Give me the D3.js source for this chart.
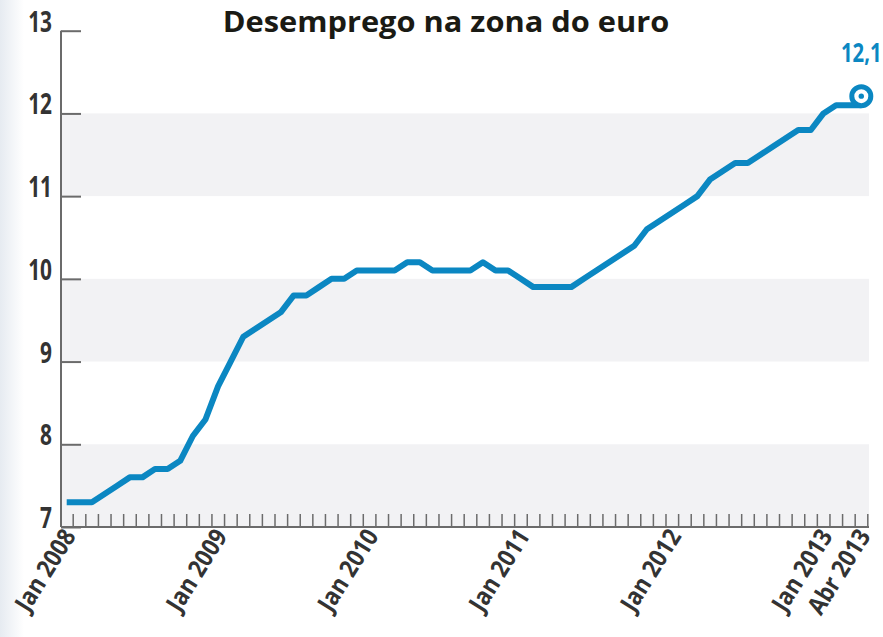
<!DOCTYPE html>
<html>
<head>
<meta charset="utf-8">
<script src="https://cdn.jsdelivr.net/npm/d3@7"></script>
<style>
  body { margin: 0; background: #fff; }
  svg { display: block; }
</style>
</head>
<body>
<svg id="chart" width="883" height="637"></svg>
<script>
// Taxa de desemprego mensal, Jan 2008 .. Abr 2013 (%)
const values = [
  7.3, 7.3, 7.3, 7.4, 7.5, 7.6, 7.6, 7.7, 7.7, 7.8, 8.1, 8.3,
  8.7, 9.0, 9.3, 9.4, 9.5, 9.6, 9.8, 9.8, 9.9, 10.0, 10.0, 10.1,
  10.1, 10.1, 10.1, 10.2, 10.2, 10.1, 10.1, 10.1, 10.1, 10.2, 10.1, 10.1,
  10.0, 9.9, 9.9, 9.9, 9.9, 10.0, 10.1, 10.2, 10.3, 10.4, 10.6, 10.7,
  10.8, 10.9, 11.0, 11.2, 11.3, 11.4, 11.4, 11.5, 11.6, 11.7, 11.8, 11.8,
  12.0, 12.1, 12.1, 12.1
];
const xTickIndex = [0, 12, 24, 36, 48, 60, 63];
const xTickLabels = ["Jan 2008", "Jan 2009", "Jan 2010", "Jan 2011", "Jan 2012", "Jan 2013", "Abr 2013"];
const yTicks = [7, 8, 9, 10, 11, 12, 13];
const bands = [[7, 8], [9, 10], [11, 12]];
const lastLabel = "12,1";
const title = "Desemprego na zona do euro";

const svg = d3.select("#chart");
const lineColor = "#0b87c2";
const axisColor = "#6b6b6b";
const labelFont = "'Open Sans', 'Noto Sans', sans-serif";

// faint shading on the left edge
const grad = svg.append("defs").append("linearGradient")
    .attr("id", "edge").attr("x1", 0).attr("x2", 1);
grad.append("stop").attr("offset", 0).attr("stop-color", "#e6ebf1");
grad.append("stop").attr("offset", 1).attr("stop-color", "#ffffff");
svg.append("rect")
    .attr("x", 0).attr("y", 0).attr("width", 24).attr("height", 637)
    .attr("fill", "url(#edge)");

const x = d3.scaleLinear()
    .domain([0, values.length - 1])
    .range([72.7, 867.3]);
const y = d3.scaleLinear()
    .domain([7, 13])
    .range([527, 30.7]);

const plotLeft = 61, plotRight = 869;

// alternating bands
svg.append("g")
    .selectAll("rect")
    .data(bands)
    .join("rect")
        .attr("x", plotLeft)
        .attr("width", plotRight - plotLeft)
        .attr("y", d => y(d[1]))
        .attr("height", d => y(d[0]) - y(d[1]))
        .attr("fill", "#f2f2f4");

// y axis
const yAxis = svg.append("g")
    .attr("transform", `translate(${plotLeft},0)`)
    .call(d3.axisRight(y).tickValues(yTicks).tickSize(20).tickFormat(""));
yAxis.select(".domain").remove();
yAxis.selectAll("line").attr("stroke", axisColor).attr("stroke-width", 2);
svg.append("line")
    .attr("x1", plotLeft).attr("x2", plotLeft)
    .attr("y1", y(13)).attr("y2", y(7))
    .attr("stroke", axisColor).attr("stroke-width", 2);

// condensed look: squeeze the text horizontally
svg.append("g")
    .selectAll("text")
    .data(yTicks)
    .join("text")
        .attr("transform", d => `translate(52,${y(d) + 1}) scale(0.72,1)`)
        .attr("text-anchor", "end")
        .style("font-family", labelFont)
        .style("font-weight", "bold")
        .style("font-size", "29px")
        .style("fill", "#333")
        .text(d => d);

// x axis with monthly ticks
const xAxis = svg.append("g")
    .attr("transform", `translate(0,${y(7)})`)
    .call(d3.axisTop(x).tickValues(d3.range(values.length)).tickSize(13).tickFormat(""));
xAxis.select(".domain").remove();
xAxis.selectAll("line").attr("stroke", axisColor).attr("stroke-width", 1.5);
svg.append("line")
    .attr("x1", plotLeft).attr("x2", plotRight)
    .attr("y1", y(7)).attr("y2", y(7))
    .attr("stroke", axisColor).attr("stroke-width", 2);

svg.append("g")
    .selectAll("text")
    .data(xTickIndex)
    .join("text")
        .attr("transform", d => `translate(${x(d) + 4},${y(7) + 9}) rotate(-58) scale(0.88,1)`)
        .attr("text-anchor", "end")
        .style("font-family", labelFont)
        .style("font-weight", "bold")
        .style("font-size", "25px")
        .style("fill", "#333")
        .text((d, i) => xTickLabels[i]);

// the series
const line = d3.line()
    .x((d, i) => x(i))
    .y(d => y(d));

const series = svg.append("g").attr("transform", "translate(-6,0)");
series.append("path")
    .datum(values)
    .attr("d", line)
    .attr("fill", "none")
    .attr("stroke", lineColor)
    .attr("stroke-width", 6)
    .attr("stroke-linejoin", "round");

const last = values.length - 1;
series.append("circle")
    .attr("cx", x(last))
    .attr("cy", y(values[last]) - 9)
    .attr("r", 9.5)
    .attr("fill", "#fff")
    .attr("stroke", lineColor)
    .attr("stroke-width", 5);
series.append("circle")
    .attr("cx", x(last))
    .attr("cy", y(values[last]) - 9)
    .attr("r", 2.7)
    .attr("fill", lineColor);
series.append("text")
    .attr("transform", `translate(${x(last)},${y(values[last]) - 43}) scale(0.78,1)`)
    .attr("text-anchor", "middle")
    .style("font-family", labelFont)
    .style("font-weight", "bold")
    .style("font-size", "26px")
    .style("fill", lineColor)
    .text(lastLabel);

// title
svg.append("text")
    .attr("transform", "translate(446,32) scale(1.1,1)")
    .attr("text-anchor", "middle")
    .style("font-family", labelFont)
    .style("font-weight", "bold")
    .style("font-size", "28px")
    .style("fill", "#1a1a14")
    .text(title);
</script>
</body>
</html>
